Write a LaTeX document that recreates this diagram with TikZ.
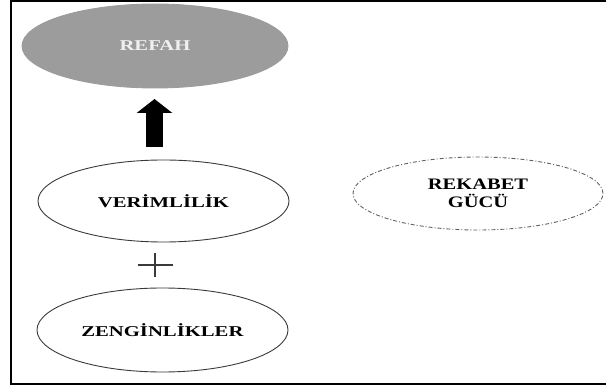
\documentclass[tikz,border=0pt]{standalone}
\usepackage{fontspec}
\setmainfont{Liberation Serif}
\usetikzlibrary{shapes.geometric,arrows.meta}
\definecolor{refahgray}{HTML}{9C9C9C}
\definecolor{edgegray}{HTML}{3A3A3A}
\tikzset{
  blob/.style={ellipse, inner sep=0pt, draw=edgegray, line width=0.9pt, text=black,
    font=\fontsize{15}{18}\selectfont},
  refahblob/.style={blob, fill=refahgray, draw=refahgray, text=white!94!black},
  dashblob/.style={ellipse, inner sep=0pt, draw=edgegray!80, line width=0.9pt,
    dash pattern=on 4pt off 2pt on 1pt off 2pt, align=center,
    font=\fontsize{16}{18}\selectfont},
  blockarrow/.style={line width=17pt, -{Triangle[length=14pt,width=35pt]}},
  plusline/.style={line width=1.2pt, edgegray},
  framestyle/.style={line width=2pt, black}
}
\newcommand{\wide}[1]{\scalebox{1.38}[1]{\textbf{#1}}}
\begin{document}
\begin{tikzpicture}[x=1pt,y=-1pt]
\useasboundingbox (0,0) rectangle (606,390);
\draw[framestyle] (606,1) -- (11,1) -- (11,384.3) -- (606,384.3);
\node[refahblob, minimum width=266pt, minimum height=84pt] (refah) at (155,46) {\wide{REFAH}};
\node[blob, minimum width=251pt, minimum height=82pt] (ver) at (163.5,201) {\wide{VER\.IML\.IL\.IK}};
\node[blob, minimum width=251pt, minimum height=84pt] (zen) at (162.5,330) {\wide{ZENG\.INL\.IKLER}};
\node[dashblob, minimum width=250pt, minimum height=73pt] (rek) at (478,193.5) {\scalebox{1.28}[1]{\textbf{REKABET}}\\\scalebox{1.28}[1]{\textbf{GÜCÜ}}};
\coordinate (abot) at (154.5,147);
\coordinate (atip) at (154.5,99);
\draw[blockarrow] (abot) -- (atip);
\coordinate (plusc) at (155,265);
\draw[plusline] (plusc) +(-17.5,0) -- +(17.5,0);
\draw[plusline] (plusc) +(0,-12) -- +(0,12);
\end{tikzpicture}
\end{document}
